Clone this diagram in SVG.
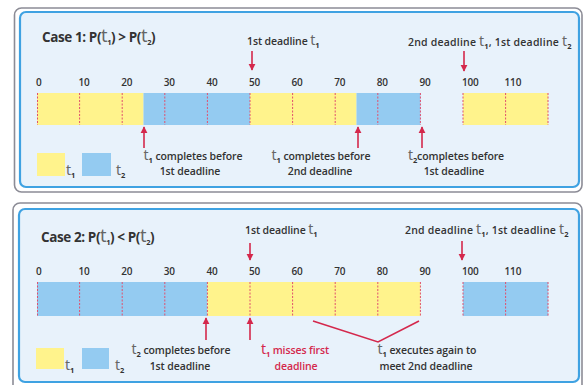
<svg xmlns="http://www.w3.org/2000/svg" width="583" height="385" viewBox="0 0 583 385">
<style>
.outer{fill:#ffffff;stroke:#8c8c96;stroke-width:1.6}
.panel{fill:#e8f2fb;stroke:#3fa2e2;stroke-width:2.2}
.y{fill:#fff38c}
.b{fill:#94cbf1}
.tick{stroke:#e0506e;stroke-width:1;stroke-dasharray:2 1.5}
.lbl{font-family:"Open Sans","Liberation Sans",sans-serif;font-size:10.5px;font-weight:600;fill:#333;letter-spacing:-0.1px}
.wide{letter-spacing:0.2px}
.num{font-family:"Open Sans","Liberation Sans",sans-serif;font-size:10px;font-weight:600;fill:#333;letter-spacing:-0.2px}
.title{font-family:"Open Sans","Liberation Sans",sans-serif;font-size:13.5px;font-weight:700;fill:#333;letter-spacing:-0.4px}
.sym{font-family:"Noto Sans","DejaVu Sans",sans-serif;font-weight:400;font-size:14px;fill:#666}
.title .sym{font-size:18px}
.sub{font-size:7.5px;font-weight:700}
.arr{stroke:#d4284c;stroke-width:1.6;fill:none;marker-end:url(#ah)}
.brk{stroke:#d4284c;stroke-width:1.6;fill:none}
</style>
<defs>
<marker id="ah" viewBox="0 0 10 10" refX="9" refY="5" markerWidth="4.5" markerHeight="4.5" orient="auto">
<path d="M0,0 L10,5 L0,10 Z" fill="#d4284c"/>
</marker>
</defs>

<g id="panel1">
<rect class="outer" x="14.5" y="8" width="567.5" height="184" rx="7"/>
<rect class="panel" x="20" y="12" width="559" height="175" rx="6"/>
<text class="title" x="42" y="42">Case 1: P(<tspan class="sym">t</tspan><tspan class="sub" dy="2.5">1</tspan><tspan dy="-2.5">) &gt; P(</tspan><tspan class="sym">t</tspan><tspan class="sub" dy="2.5">2</tspan><tspan dy="-2.5">)</tspan></text>
</g>

<g id="bar1">
<rect class="y" x="37" y="93" width="106.5" height="32"/>
<rect class="b" x="143.5" y="93" width="106.5" height="32"/>
<rect class="y" x="250" y="93" width="106.5" height="32"/>
<rect class="b" x="356.5" y="93" width="63.9" height="32"/>
<rect class="y" x="463" y="93" width="85.2" height="32"/>
<g class="tick">
<line x1="37.5" y1="93" x2="37.5" y2="125"/>
<line x1="79.6" y1="93" x2="79.6" y2="125"/>
<line x1="122.2" y1="93" x2="122.2" y2="125"/>
<line x1="164.8" y1="93" x2="164.8" y2="125"/>
<line x1="207.4" y1="93" x2="207.4" y2="125"/>
<line x1="250" y1="93" x2="250" y2="125"/>
<line x1="292.6" y1="93" x2="292.6" y2="125"/>
<line x1="335.2" y1="93" x2="335.2" y2="125"/>
<line x1="377.8" y1="93" x2="377.8" y2="125"/>
<line x1="420.4" y1="93" x2="420.4" y2="125"/>
<line x1="463" y1="93" x2="463" y2="125"/>
<line x1="505.6" y1="93" x2="505.6" y2="125"/>
<line x1="548" y1="93" x2="548" y2="125"/>
</g>
<g class="num">
<text x="36" y="86">0</text>
<text x="78.6" y="86">10</text>
<text x="121.2" y="86">20</text>
<text x="163.8" y="86">30</text>
<text x="206.4" y="86">40</text>
<text x="249" y="86">50</text>
<text x="291.6" y="86">60</text>
<text x="334.2" y="86">70</text>
<text x="376.8" y="86">80</text>
<text x="419.4" y="86">90</text>
<text x="462" y="86">100</text>
<text x="504.6" y="86">110</text>
</g>
</g>

<g id="labels1">
<text class="lbl" x="247" y="45">1st deadline <tspan class="sym">t</tspan><tspan class="sub" dy="2.5">1</tspan></text>
<text class="lbl wide" x="408" y="46">2nd deadline <tspan class="sym">t</tspan><tspan class="sub" dy="2.5">1</tspan><tspan dy="-2.5">, 1st deadline </tspan><tspan class="sym">t</tspan><tspan class="sub" dy="2.5">2</tspan></text>
<text class="lbl" x="193" y="160" text-anchor="middle"><tspan class="sym">t</tspan><tspan class="sub" dy="2.5">1</tspan><tspan dy="-2.5"> completes before</tspan></text>
<text class="lbl" x="190" y="175" text-anchor="middle">1st deadline</text>
<text class="lbl" x="321" y="160" text-anchor="middle"><tspan class="sym">t</tspan><tspan class="sub" dy="2.5">1</tspan><tspan dy="-2.5"> completes before</tspan></text>
<text class="lbl" x="320" y="175" text-anchor="middle">2nd deadline</text>
<text class="lbl" x="456" y="160" text-anchor="middle"><tspan class="sym">t</tspan><tspan class="sub" dy="2.5">2</tspan><tspan dy="-2.5">completes before</tspan></text>
<text class="lbl" x="454" y="175" text-anchor="middle">1st deadline</text>
</g>

<g id="legend1">
<rect class="y" x="37" y="153" width="28" height="23"/>
<rect class="b" x="82" y="153" width="29" height="23"/>
<text class="lbl" x="66" y="175"><tspan class="sym">t</tspan><tspan class="sub" dy="2.5">1</tspan></text>
<text class="lbl" x="116" y="175"><tspan class="sym">t</tspan><tspan class="sub" dy="2.5">2</tspan></text>
</g>

<g id="panel2">
<rect class="outer" x="13" y="203" width="569" height="190" rx="7"/>
<rect class="panel" x="19" y="209" width="560" height="173" rx="6"/>
<text class="title" x="41" y="242">Case 2: P(<tspan class="sym">t</tspan><tspan class="sub" dy="2.5">1</tspan><tspan dy="-2.5">) &lt; P(</tspan><tspan class="sym">t</tspan><tspan class="sub" dy="2.5">2</tspan><tspan dy="-2.5">)</tspan></text>
</g>

<g id="bar2">
<rect class="b" x="37" y="282" width="170.4" height="34"/>
<rect class="y" x="207.4" y="282" width="213" height="34"/>
<rect class="b" x="463" y="282" width="85.2" height="34"/>
<g class="tick">
<line x1="37.5" y1="282" x2="37.5" y2="316"/>
<line x1="79.6" y1="282" x2="79.6" y2="316"/>
<line x1="122.2" y1="282" x2="122.2" y2="316"/>
<line x1="164.8" y1="282" x2="164.8" y2="316"/>
<line x1="207.4" y1="282" x2="207.4" y2="316"/>
<line x1="250" y1="282" x2="250" y2="316"/>
<line x1="292.6" y1="282" x2="292.6" y2="316"/>
<line x1="335.2" y1="282" x2="335.2" y2="316"/>
<line x1="377.8" y1="282" x2="377.8" y2="316"/>
<line x1="420.4" y1="282" x2="420.4" y2="316"/>
<line x1="463" y1="282" x2="463" y2="316"/>
<line x1="505.6" y1="282" x2="505.6" y2="316"/>
<line x1="548" y1="282" x2="548" y2="316"/>
</g>
<g class="num">
<text x="36" y="275">0</text>
<text x="78.6" y="275">10</text>
<text x="121.2" y="275">20</text>
<text x="163.8" y="275">30</text>
<text x="206.4" y="275">40</text>
<text x="249" y="275">50</text>
<text x="291.6" y="275">60</text>
<text x="334.2" y="275">70</text>
<text x="376.8" y="275">80</text>
<text x="419.4" y="275">90</text>
<text x="462" y="275">100</text>
<text x="504.6" y="275">110</text>
</g>
</g>

<g id="labels2">
<text class="lbl" x="245" y="234">1st deadline <tspan class="sym">t</tspan><tspan class="sub" dy="2.5">1</tspan></text>
<text class="lbl wide" x="405" y="234">2nd deadline <tspan class="sym">t</tspan><tspan class="sub" dy="2.5">1</tspan><tspan dy="-2.5">, 1st deadline </tspan><tspan class="sym">t</tspan><tspan class="sub" dy="2.5">2</tspan></text>
<text class="lbl" x="181" y="354" text-anchor="middle"><tspan class="sym">t</tspan><tspan class="sub" dy="2.5">2</tspan><tspan dy="-2.5"> completes before</tspan></text>
<text class="lbl" x="180" y="370" text-anchor="middle">1st deadline</text>
<text class="lbl" x="295" y="354" text-anchor="middle" style="fill:#d4284c"><tspan class="sym" style="fill:#d4284c">t</tspan><tspan class="sub" dy="2.5">1</tspan><tspan dy="-2.5"> misses first</tspan></text>
<text class="lbl" x="296" y="370" text-anchor="middle" style="fill:#d4284c">deadline</text>
<text class="lbl" x="427" y="354" text-anchor="middle"><tspan class="sym">t</tspan><tspan class="sub" dy="2.5">1</tspan><tspan dy="-2.5"> executes again to</tspan></text>
<text class="lbl" x="426" y="370" text-anchor="middle">meet 2nd deadline</text>
</g>

<g id="legend2">
<rect class="y" x="36" y="348" width="28" height="21"/>
<rect class="b" x="82" y="348" width="27" height="21"/>
<text class="lbl" x="65" y="370"><tspan class="sym">t</tspan><tspan class="sub" dy="2.5">1</tspan></text>
<text class="lbl" x="115" y="370"><tspan class="sym">t</tspan><tspan class="sub" dy="2.5">2</tspan></text>
</g>

<g id="connectors">
<line class="arr" x1="252" y1="51" x2="252" y2="70"/>
<line class="arr" x1="464" y1="51" x2="464" y2="71"/>
<line class="arr" x1="144" y1="148" x2="144" y2="127"/>
<line class="arr" x1="358" y1="148" x2="358" y2="127"/>
<line class="arr" x1="422" y1="148" x2="422" y2="127"/>
<line class="arr" x1="250" y1="243" x2="250" y2="260"/>
<line class="arr" x1="462" y1="241" x2="462" y2="260"/>
<line class="arr" x1="206" y1="340" x2="206" y2="318"/>
<line class="arr" x1="250" y1="340" x2="250" y2="318"/>
<polyline class="brk" points="313,321 378,342 419,321"/>
</g>
</svg>
